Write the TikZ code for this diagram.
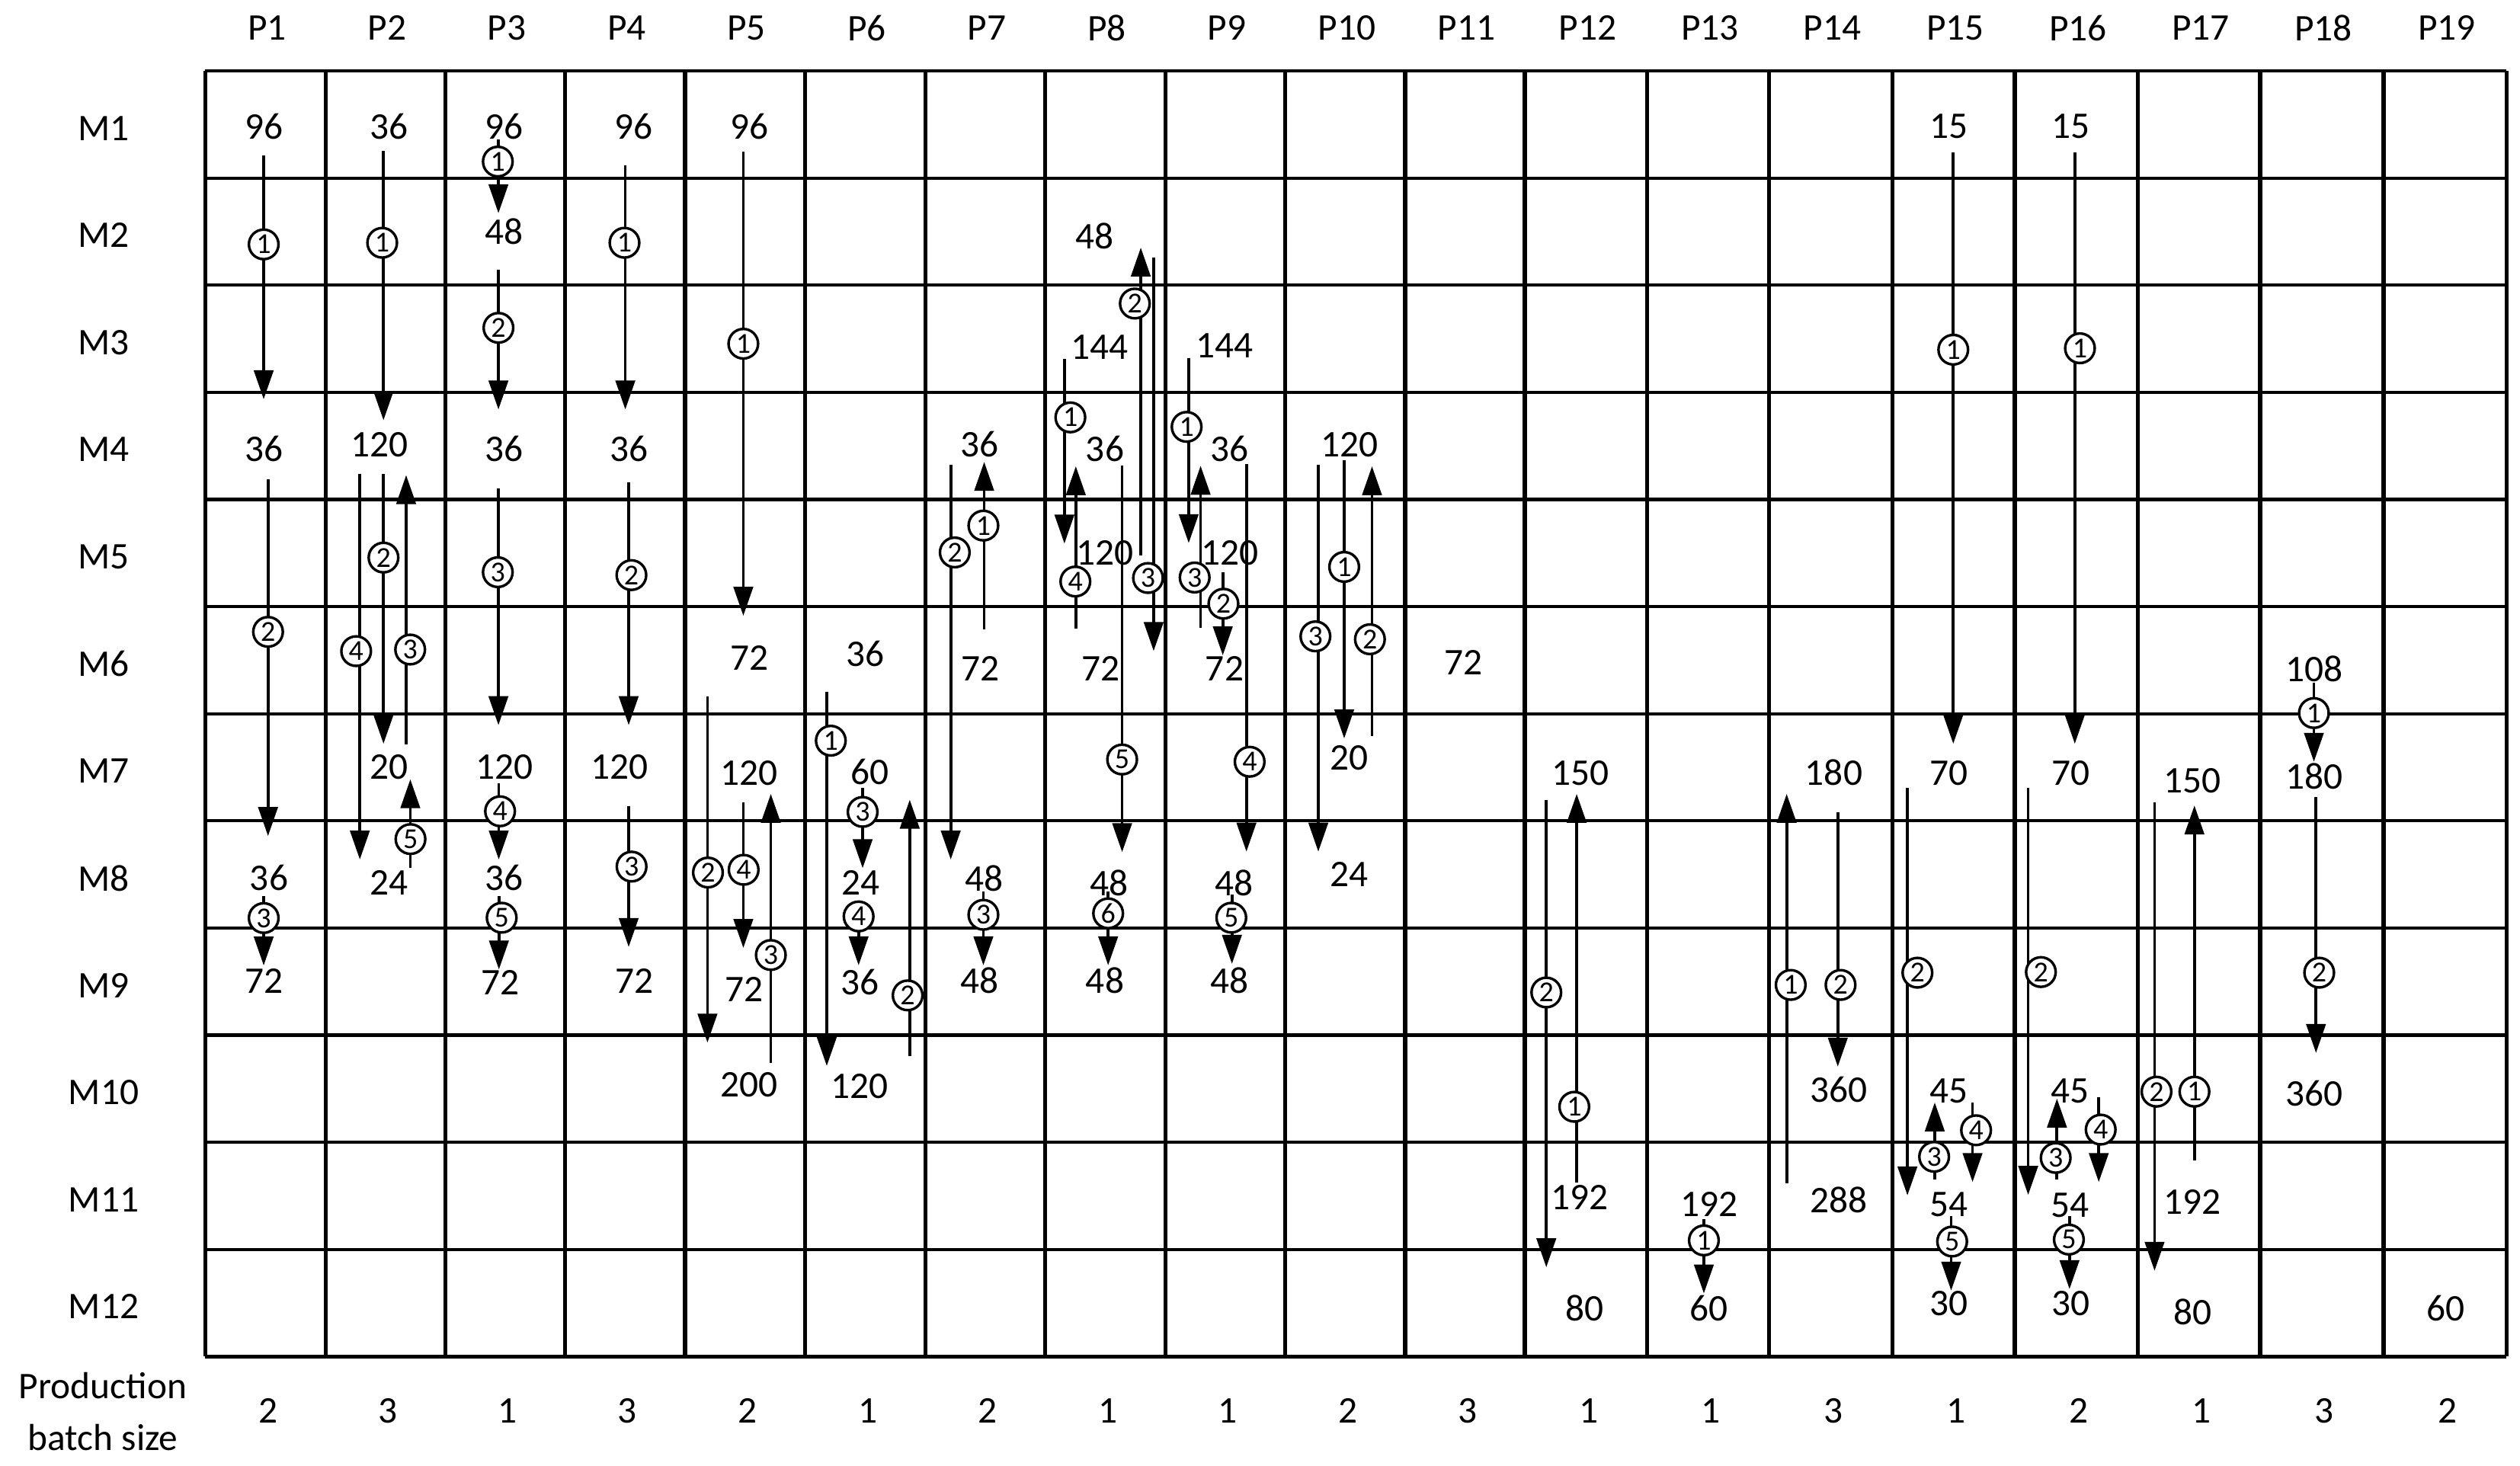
\documentclass[tikz,border=0pt]{standalone}
\usepackage{fontspec}
\setmainfont{Carlito}
\usetikzlibrary{arrows.meta}
\newcommand\FlowArr[7]{%
  \coordinate (#1a) at (#2,#3);
  \coordinate (#1b) at (#2,#4);
  \draw[flowline] (#1a) -- (#1b);
  \node[stepcirc] (#1c) at (#5,#6) {#7};
}
\tikzset{
  num/.style={font=\fontsize{11.7}{14}\selectfont, inner sep=0pt},
  stepcirc/.style={circle, draw, line width=0.8pt, fill=white, inner sep=0pt, minimum size=9.2pt, font=\fontsize{9}{9}\selectfont},
  flowline/.style={line width=0.9pt, -{Triangle[length=9pt,width=6pt]}},
  gridv/.style={line width=1.3pt},
  gridh/.style={line width=1pt},
}
\begin{document}
\begin{tikzpicture}[x=0.5pt,y=-0.5pt]
\useasboundingbox (0,0) rectangle (1567.3,911.4);
% grid
\foreach \gx in {127.7,202.5,277,351.5,426,500.6,575.7,650,724.9,799.3,874,948.4,1024.5,1100.3,1176.9,1253.1,1329.6,1405.7,1482.5,1558.9}
  \draw[gridv] (\gx,44.2) -- (\gx,843.8);
\foreach \gy in {44.2,110.8,177.4,244.0,310.7,377.3,443.9,510.5,577.2,643.8,710.4,777.1,843.8}
  \draw[gridh] (127.7,\gy) -- (1558.9,\gy);
% headers
\foreach \cx/\t [count=\i] in {165.1/P1,239.75/P2,314.25/P3,388.75/P4,463.3/P5,538.15/P6,612.85/P7,687.45/P8,762.1/P9,836.65/P10,911.2/P11,986.45/P12,1062.4/P13,1138.6/P14,1215/P15,1291.35/P16,1367.65/P17,1444.1/P18,1520.7/P19}
  \node[num] (hp\i) at (\cx+1,17.5) {\t};
\foreach \ry [count=\i] in {77.5,144.1,210.7,277.35,344,410.6,477.2,543.85,610.5,677.1,743.75,810.45}
  \node[num] (hm\i) at (64.5,\ry+2.3) {M\i};
\node[num] (prod1) at (64,861.8) {Production};
\node[num] (prod2) at (64,894.2) {batch size};
\foreach \cx/\t [count=\i] in {165.1/2,239.75/3,314.25/1,388.75/3,463.3/2,538.15/1,612.85/2,687.45/1,762.1/1,836.65/2,911.2/3,986.45/1,1062.4/1,1138.6/3,1215/1,1291.35/2,1367.65/1,1444.1/3,1520.7/2}
  \node[num] (bs\i) at (\cx+1.5,877.6) {\t};
% P1
\node[num] (c1n1) at (164,78.7) {96};
\node[num] (c1n2) at (164,279) {36};
\node[num] (c1n3) at (167.3,546) {36};
\node[num] (c1n4) at (164,610) {72};
\FlowArr{c1f1}{164}{96.9}{248.3}{164}{152}{1}
\FlowArr{c1f2}{166.7}{298}{520}{166.7}{393}{2}
\FlowArr{c1f3}{164}{557.3}{600.5}{164}{571}{3}
% P2
\node[num] (c2n1) at (242,78.7) {36};
\node[num] (c2n2) at (236,276.4) {120};
\node[num] (c2n3) at (242,477) {20};
\node[num] (c2n4) at (242,549) {24};
\FlowArr{c2f1}{238.5}{94}{261.4}{237.7}{151}{1}
\FlowArr{c2f2}{238.5}{294.6}{462.6}{238.5}{346.8}{2}
\FlowArr{c2f4}{223.8}{294.6}{534.6}{221.5}{405}{4}
\FlowArr{c2f3}{252.6}{463}{295.5}{255.1}{404}{3}
\FlowArr{c2f5}{255.2}{540}{484.7}{255.3}{521.9}{5}
% P3
\node[num] (c3n1) at (313.6,78.7) {96};
\node[num] (c3n2) at (313.6,144) {48};
\node[num] (c3n3) at (313.6,279) {36};
\node[num] (c3n4) at (313.6,477) {120};
\node[num] (c3n5) at (313.6,546) {36};
\node[num] (c3n6) at (311,611) {72};
\FlowArr{c3f1}{310}{86.5}{132.6}{309.6}{100.5}{1}
\FlowArr{c3f2}{310}{168}{254.7}{310}{203.9}{2}
\FlowArr{c3f3}{310}{303.6}{451}{309.6}{355.9}{3}
\FlowArr{c3f4}{310.2}{487.4}{534.6}{311}{504.6}{4}
\FlowArr{c3f5}{310.3}{557.3}{603}{312}{570.8}{5}
% P4
\node[num] (c4n1) at (394,78.7) {96};
\node[num] (c4n2) at (391.4,279) {36};
\node[num] (c4n3) at (385.5,477) {120};
\node[num] (c4n4) at (394.6,610) {72};
\FlowArr{c4f1}{388.9}{102.8}{254.7}{388.4}{151}{1}
\FlowArr{c4f2}{391}{300}{451}{392.7}{357.7}{2}
\FlowArr{c4f3}{391}{501.4}{589}{392.8}{539}{3}
% P5
\node[num] (c5n1) at (466,78.7) {96};
\node[num] (c5n2) at (466,409.4) {72};
\node[num] (c5n3) at (466,481) {120};
\node[num] (c5n4) at (463,615.5) {72};
\node[num] (c5n5) at (466,674.8) {200};
\FlowArr{c5f1}{462.3}{94.5}{383}{462.3}{213.8}{1}
\FlowArr{c5f2}{440}{433}{648.5}{440.3}{542.7}{2}
\FlowArr{c5f4}{462.3}{499}{589.6}{462.5}{541}{4}
\FlowArr{c5f3}{479.4}{661.2}{493.8}{479.4}{594}{3}
% P6
\node[num] (c6n1) at (538,406.7) {36};
\node[num] (c6n2) at (541,480.2) {60};
\node[num] (c6n3) at (535.3,549) {24};
\node[num] (c6n4) at (534.8,610.8) {36};
\node[num] (c6n5) at (534.8,675.7) {120};
\FlowArr{c6f1}{514.2}{430.3}{663}{516.7}{460.7}{1}
\FlowArr{c6f3}{536.5}{490.1}{540}{536.5}{505}{3}
\FlowArr{c6f4}{534}{560}{600.4}{534}{570}{4}
\FlowArr{c6f2}{565.8}{657}{497.4}{564.5}{619.1}{2}
% P7
\node[num] (c7n1) at (609.2,276.4) {36};
\node[num] (c7n2) at (609.6,415.8) {72};
\node[num] (c7n3) at (612.1,546.4) {48};
\node[num] (c7n4) at (609.2,610) {48};
\FlowArr{c7f1}{612.1}{391.3}{287.3}{611.6}{326.9}{1}
\FlowArr{c7f2}{591.3}{289}{534.6}{593.8}{343.6}{2}
\FlowArr{c7f3}{611.6}{554.5}{600.4}{611.6}{569}{3}
% P8
\node[num] (c8n1) at (681,146.7) {48};
\node[num] (c8n2) at (684,215.7) {144};
\node[num] (c8n3) at (687.2,279) {36};
\node[num] (c8n4) at (687.2,344.1) {120};
\node[num] (c8n5) at (684.8,415.8) {72};
\node[num] (c8n6) at (689.7,549) {48};
\node[num] (c8n7) at (687.2,610) {48};
\FlowArr{c8f2}{709.5}{345.4}{154}{705.8}{188.8}{2}
\FlowArr{c8f3}{717.5}{160.3}{404.9}{714}{359.5}{3}
\FlowArr{c8f1}{662}{223.3}{338.1}{665.7}{259.6}{1}
\FlowArr{c8f4}{669.1}{390.9}{290}{668.8}{361.7}{4}
\FlowArr{c8f5}{697.9}{289.7}{530}{697.9}{472.4}{5}
\FlowArr{c8f6}{689.2}{554.5}{600.4}{689.2}{568.1}{6}
% P9
\node[num] (c9n1) at (761.6,215) {144};
\node[num] (c9n2) at (764.8,279) {36};
\node[num] (c9n3) at (764.8,344.1) {120};
\node[num] (c9n4) at (761.6,415.8) {72};
\node[num] (c9n5) at (767.3,549) {48};
\node[num] (c9n6) at (764.8,610) {48};
\FlowArr{c9f1}{739.3}{222.6}{337.8}{738}{265.5}{1}
\FlowArr{c9f3}{746.7}{390.4}{289.7}{743}{359.2}{3}
\FlowArr{c9f2}{760.5}{355.9}{407.6}{760.9}{375.5}{2}
\FlowArr{c9f4}{775.2}{288.8}{529.7}{777.2}{473.8}{4}
\FlowArr{c9f5}{766.2}{556.3}{599.5}{765.8}{570.8}{5}
% P10
\node[num] (c10n1) at (839.2,276.4) {120};
\node[num] (c10n2) at (839.2,471.6) {20};
\node[num] (c10n3) at (839.2,543.6) {24};
\FlowArr{c10f3}{819.9}{289}{529.7}{818.1}{395.8}{3}
\FlowArr{c10f1}{836}{286.4}{459.3}{836}{352.6}{1}
\FlowArr{c10f2}{853.3}{458}{290}{852}{397.6}{2}
% P11
\node[num] (c11n1) at (910.4,412.1) {72};
% P12
\node[num] (c12n1) at (983,480.7) {150};
\node[num] (c12n2) at (982.3,744.6) {192};
\node[num] (c12n3) at (985.5,813.6) {80};
\FlowArr{c12f2}{961.7}{497.4}{788.2}{961.7}{617.3}{2}
\FlowArr{c12f1}{980.6}{735.6}{493.8}{979.1}{688.4}{1}
% P13
\node[num] (c13n1) at (1062.9,749.2) {192};
\node[num] (c13n2) at (1062.9,813.6) {60};
\FlowArr{c13f1}{1059.7}{758.3}{804.5}{1059.7}{771.5}{1}
% P14
\node[num] (c14n1) at (1140.5,480.7) {180};
\node[num] (c14n2) at (1143.4,677.9) {360};
\node[num] (c14n3) at (1143.4,746.5) {288};
\FlowArr{c14f1}{1111.2}{736}{493.8}{1113.7}{612.6}{1}
\FlowArr{c14f2}{1143}{505}{663.4}{1144.7}{612.6}{2}
% P15
\node[num] (c15n1) at (1212.3,78.7) {15};
\node[num] (c15n2) at (1212.3,480.7) {70};
\node[num] (c15n3) at (1212.1,678.4) {45};
\node[num] (c15n4) at (1212.2,749.2) {54};
\node[num] (c15n5) at (1212.3,810.9) {30};
\FlowArr{c15f1}{1214.8}{95}{462.6}{1214.8}{217.5}{1}
\FlowArr{c15f2}{1186.3}{490.1}{743.5}{1192.5}{605}{2}
\FlowArr{c15f3}{1203.3}{733.8}{685.7}{1202.9}{719.5}{3}
\FlowArr{c15f4}{1226.8}{685.7}{735.2}{1229}{703}{4}
\FlowArr{c15f5}{1213.5}{756.4}{802.7}{1214.1}{772.2}{5}
% P16
\node[num] (c16n1) at (1288,78.7) {15};
\node[num] (c16n2) at (1288,480.7) {70};
\node[num] (c16n3) at (1287.4,678.4) {45};
\node[num] (c16n4) at (1287.4,749.7) {54};
\node[num] (c16n5) at (1287.9,810.9) {30};
\FlowArr{c16f1}{1290.4}{95}{462.6}{1293.6}{216.6}{1}
\FlowArr{c16f2}{1261.4}{490.1}{743.2}{1269.3}{604.6}{2}
\FlowArr{c16f3}{1279.3}{733.8}{683.3}{1278.5}{720.2}{3}
\FlowArr{c16f4}{1305.3}{682.6}{735.2}{1306.5}{702.6}{4}
\FlowArr{c16f5}{1287.1}{756.4}{801.8}{1286.7}{771}{5}
% P17
\node[num] (c17n1) at (1363.5,485.6) {150};
\node[num] (c17n2) at (1363.5,747.4) {192};
\node[num] (c17n3) at (1363.5,815.8) {80};
\FlowArr{c17f2}{1340}{499.2}{790.4}{1341.2}{679}{2}
\FlowArr{c17f1}{1364.8}{722}{501}{1364.8}{679}{1}
% P18
\node[num] (c18n1) at (1439.1,416.1) {108};
\node[num] (c18n2) at (1439.1,482.9) {180};
\node[num] (c18n3) at (1439.1,680.3) {360};
\FlowArr{c18f1}{1439.1}{424.5}{473.8}{1439.1}{443.5}{1}
\FlowArr{c18f2}{1440.4}{495.9}{654.9}{1442.4}{605}{2}
% P19
\node[num] (c19n1) at (1521,813.6) {60};
\end{tikzpicture}
\end{document}
